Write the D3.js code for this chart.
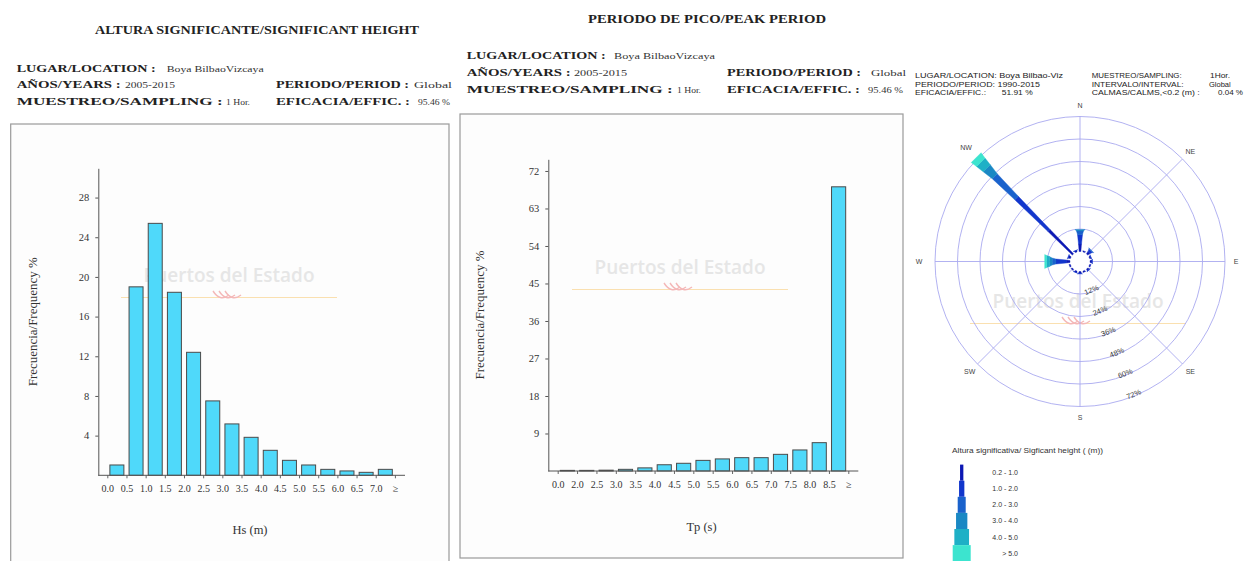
<!DOCTYPE html>
<html>
<head>
<meta charset="utf-8">
<script src="https://cdn.jsdelivr.net/npm/d3@7"></script>
<style>
  body { margin: 0; background: #ffffff; }
  svg { display: block; }
</style>
</head>
<body>
<svg id="chart" width="1245" height="561"></svg>
<script>
// ---------- Significant wave height histogram ----------
const hsLabels = ["0.0","0.5","1.0","1.5","2.0","2.5","3.0","3.5","4.0","4.5","5.0","5.5","6.0","6.5","7.0","≥"];
const hsValues = [1.04, 19.0, 25.4, 18.45, 12.4, 7.5, 5.18, 3.83, 2.52, 1.51, 1.04, 0.6, 0.44, 0.3, 0.6];
const hsTicks = [4, 8, 12, 16, 20, 24, 28];

// ---------- Peak period histogram ----------
const tpLabels = ["0.0","2.0","2.5","3.0","3.5","4.0","4.5","5.0","5.5","6.0","6.5","7.0","7.5","8.0","8.5","≥"];
const tpValues = [0.15, 0.15, 0.2, 0.4, 0.75, 1.5, 1.85, 2.55, 2.9, 3.2, 3.2, 4.0, 5.05, 6.8, 68.2];
const tpTicks = [9, 18, 27, 36, 45, 54, 63, 72];

// ---------- Directional rose (frequency % per direction, one array per Hs class) ----------
const directions = ["N","NNE","NE","ENE","E","ESE","SE","SSE","S","SSW","SW","WSW","W","WNW","NW","NNW"];
const heightClasses = ["0.2 -  1.0","1.0 -  2.0","2.0 -  3.0","3.0 -  4.0","4.0 -  5.0",">  5.0"];
const roseClass1 = [4.0, 0.6, 1.5, 0.8, 1.0, 0.7, 1.0, 0.7, 1.0, 0.8, 0.7, 0.7, 2.0, 1.2, 18.0, 0.8];
const roseClass2 = [5.0, 0.0, 1.2, 0.2, 0.3, 0.0, 0.3, 0.0, 0.3, 0.2, 0.0, 0.0, 5.5, 0.3, 24.5, 0.2];
const roseClass3 = [2.0, 0.0, 0.5, 0.0, 0.0, 0.0, 0.0, 0.0, 0.0, 0.0, 0.0, 0.0, 2.0, 0.0, 16.5, 0.0];
const roseClass4 = [0.7, 0.0, 0.0, 0.0, 0.0, 0.0, 0.0, 0.0, 0.0, 0.0, 0.0, 0.0, 1.5, 0.0, 6.0, 0.0];
const roseClass5 = [0.0, 0.0, 0.0, 0.0, 0.0, 0.0, 0.0, 0.0, 0.0, 0.0, 0.0, 0.0, 1.5, 0.0, 4.5, 0.0];
const roseClass6 = [0.0, 0.0, 0.0, 0.0, 0.0, 0.0, 0.0, 0.0, 0.0, 0.0, 0.0, 0.0, 1.0, 0.0, 3.5, 0.0];
const roseRings = [12, 24, 36, 48, 60, 72];
const compassLabels = ["N","NE","E","SE","S","SW","W","NW"];

const classColors = ["#0c18b4", "#1236cc", "#1a62cc", "#1a88c4", "#1eb0c6", "#3ce4cf"];
const petalWidths = [3, 5, 7, 10, 12, 14];
const legendWidths = [3.3, 5.3, 8, 11.3, 14.7, 18];

const svg = d3.select("#chart");
const SERIF = "'Liberation Serif', 'Times New Roman', serif";
const SANS = "'Liberation Sans', Arial, sans-serif";

function label(g, x, y, s, opts) {
  const t = g.append("text").attr("x", x).attr("y", y).text(s);
  Object.entries(opts || {}).forEach(([k, v]) => t.attr(k, v));
  return t;
}

// faint agency watermark: name, underline and wave logo
function watermark(g, cx, cy) {
  label(g, cx, cy + 6, "Puertos del Estado", {
    "text-anchor": "middle", "font-family": "'Open Sans', sans-serif",
    "font-weight": 600, "font-size": 19, fill: "#e6e6e6"
  });
  g.append("line").attr("x1", cx - 108).attr("x2", cx + 108)
    .attr("y1", cy + 21.5).attr("y2", cy + 21.5)
    .attr("stroke", "#fae0b0").attr("stroke-width", 1);
  [0, 6, 12].forEach(dx => {
    g.append("path")
      .attr("d", `M${cx - 16 + dx},${cy + 15} q7,11 16,4`)
      .attr("fill", "none").attr("stroke", "#f4b8b8").attr("stroke-width", 1.4);
  });
}

// ---------- headers of the two histogram panels ----------
function header(g, ox, title, titleX, titleY, titleW, rows) {
  label(g, titleX, titleY, title, {
    "font-family": SERIF, "font-weight": "bold", "font-size": 11.5, fill: "#222",
    textLength: titleW, lengthAdjust: "spacingAndGlyphs"
  });
  rows.forEach(r => {
    label(g, ox + r.x, r.y, r.key, {
      "font-family": SERIF, "font-weight": "bold", "font-size": 11.3, fill: "#222",
      textLength: r.w, lengthAdjust: "spacingAndGlyphs"
    });
    label(g, ox + r.vx, r.y, r.val, {
      "font-family": SERIF, "font-size": 9, fill: "#333",
      textLength: r.vw, lengthAdjust: "spacingAndGlyphs"
    });
  });
}

const hdr = svg.append("g");
header(hdr, 0, "ALTURA SIGNIFICANTE/SIGNIFICANT HEIGHT", 95, 34, 324, [
  { key: "LUGAR/LOCATION :", x: 16.7, y: 71.5, w: 139, val: "Boya BilbaoVizcaya", vx: 166.7, vw: 97 },
  { key: "AÑOS/YEARS :", x: 16.7, y: 88, w: 104, val: "2005-2015", vx: 125, vw: 50 },
  { key: "MUESTREO/SAMPLING :", x: 16.7, y: 104.5, w: 206, val: "1 Hor.", vx: 226, vw: 24 },
  { key: "PERIODO/PERIOD :", x: 276, y: 88, w: 133, val: "Global", vx: 414, vw: 38 },
  { key: "EFICACIA/EFFIC. :", x: 276, y: 104.5, w: 134, val: "95.46 %", vx: 418, vw: 32 }
]);
header(hdr, 450, "PERIODO DE PICO/PEAK PERIOD", 588, 22.7, 238, [
  { key: "LUGAR/LOCATION :", x: 16.7, y: 58.5, w: 139, val: "Boya BilbaoVizcaya", vx: 164, vw: 101 },
  { key: "AÑOS/YEARS :", x: 16.7, y: 75.5, w: 104, val: "2005-2015", vx: 124, vw: 53 },
  { key: "MUESTREO/SAMPLING :", x: 16.7, y: 92.5, w: 206, val: "1 Hor.", vx: 227, vw: 24 },
  { key: "PERIODO/PERIOD :", x: 277, y: 75.5, w: 134, val: "Global", vx: 421, vw: 35 },
  { key: "EFICACIA/EFFIC. :", x: 277, y: 92.5, w: 133, val: "95.46 %", vx: 418, vw: 35 }
]);

// ---------- histogram panel ----------
function histogram(cfg) {
  const g = svg.append("g");
  g.append("rect").attr("x", cfg.box[0]).attr("y", cfg.box[1])
    .attr("width", cfg.box[2] - cfg.box[0]).attr("height", cfg.box[3] - cfg.box[1])
    .attr("fill", "#fdfdfd").attr("stroke", "#9a9a9a").attr("stroke-width", 1.2);

  watermark(g, cfg.wm[0], cfg.wm[1]);

  const x = d3.scaleBand()
    .domain(d3.range(cfg.values.length))
    .range([cfg.b0, cfg.b1])
    .paddingInner(0.27).paddingOuter(0.135);
  const xb = d3.scalePoint().domain(cfg.labels).range([cfg.b0, cfg.b1]);
  const y = d3.scaleLinear().domain([0, cfg.yMax]).range([cfg.base, cfg.top]);

  g.selectAll("rect.bar").data(cfg.values).join("rect")
    .attr("class", "bar")
    .attr("x", (d, i) => x(i)).attr("width", x.bandwidth())
    .attr("y", d => y(d)).attr("height", d => y(0) - y(d))
    .attr("fill", "#4fd9fa").attr("stroke", "#4a4a4a").attr("stroke-width", 1);

  const ya = g.append("g").attr("transform", `translate(${cfg.axisL},0)`)
    .call(d3.axisLeft(y).tickValues(cfg.ticks).tickSize(3).tickSizeOuter(0).tickPadding(6));
  ya.select(".domain").attr("stroke", "#555");
  ya.selectAll(".tick line").attr("stroke", "#555");
  ya.selectAll("text").attr("font-family", SERIF).attr("font-size", 10.5).attr("fill", "#333");

  const xa = g.append("g").attr("transform", `translate(0,${cfg.base})`)
    .call(d3.axisBottom(xb).tickSize(3).tickPadding(7));
  xa.select(".domain").remove();
  xa.selectAll(".tick line").attr("stroke", "#666");
  xa.selectAll("text").attr("font-family", SERIF).attr("font-size", 10).attr("fill", "#333");
  g.append("line").attr("x1", cfg.axisL).attr("x2", cfg.axisR)
    .attr("y1", cfg.base).attr("y2", cfg.base).attr("stroke", "#555");

  label(g, cfg.xt[0], cfg.xt[1], cfg.xTitle, {
    "text-anchor": "middle", "font-family": SERIF, "font-size": 12.5, fill: "#333"
  });
  label(g, 0, 0, "Frecuencia/Frequency %", {
    "text-anchor": "middle", "font-family": SERIF, "font-size": 12, fill: "#333",
    transform: `translate(${cfg.yt[0]},${cfg.yt[1]}) rotate(-90)`,
    textLength: 129, lengthAdjust: "spacingAndGlyphs"
  });
}

histogram({
  box: [10.7, 124, 449, 600], wm: [229, 276],
  labels: hsLabels, values: hsValues, ticks: hsTicks, yMax: 30.95,
  b0: 107.3, b1: 394.9, axisL: 98.3, axisR: 405, base: 475.3, top: 168.3,
  xTitle: "Hs (m)", xt: [250, 534], yt: [36.5, 321.7]
});
histogram({
  box: [460, 114, 903, 558], wm: [680, 268],
  labels: tpLabels, values: tpValues, ticks: tpTicks, yMax: 74.8,
  b0: 557.7, b1: 848.3, axisL: 548.3, axisR: 858.3, base: 471, top: 159.3,
  xTitle: "Tp (s)", xt: [701.5, 531], yt: [484, 315]
});

// ---------- directional rose ----------
const rose = svg.append("g");
const cx = 1080, cy = 261.5;
const r = d3.scaleLinear().domain([0, 72]).range([10, 145]);
const R = r(72);
const rad = deg => deg * Math.PI / 180;

// header text
[
  ["LUGAR/LOCATION: Boya Bilbao-Viz", 915, 77.7, 148],
  ["PERIODO/PERIOD: 1990-2015", 915, 86.7, 125],
  ["EFICACIA/EFFIC.:", 915, 95.4, 71],
  ["51.91 %", 1001.7, 95.4, 31],
  ["MUESTREO/SAMPLING:", 1091.7, 77.7, 90],
  ["1Hor.", 1210, 77.7, 20],
  ["INTERVALO/INTERVAL:", 1091.7, 86.7, 92],
  ["Global", 1209, 86.7, 21.7],
  ["CALMAS/CALMS,<0.2 (m)  :", 1091.7, 95.4, 108],
  ["0.04 %", 1218, 95.4, 25]
].forEach(([s, x, y, w]) => label(rose, x, y, s, {
  "font-family": SANS, "font-size": 7.8, fill: "#222",
  textLength: w, lengthAdjust: "spacingAndGlyphs"
}));

watermark(rose, 1078, 302);

// grid rings and spokes
rose.selectAll("circle.ring").data(roseRings).join("circle")
  .attr("class", "ring").attr("cx", cx).attr("cy", cy).attr("r", d => r(d))
  .attr("fill", "none").attr("stroke", "#a9a9ef").attr("stroke-width", 0.9);
[0, 45, 90, 135].forEach(b => {
  const dx = Math.sin(rad(b)) * R, dy = -Math.cos(rad(b)) * R;
  rose.append("line").attr("x1", cx - dx).attr("y1", cy - dy).attr("x2", cx + dx).attr("y2", cy + dy)
    .attr("stroke", "#a9a9ef").attr("stroke-width", 0.9);
});
rose.append("circle").attr("cx", cx).attr("cy", cy).attr("r", r(0)).attr("fill", "#fff");

// compass labels
compassLabels.forEach((s, i) => {
  const b = i * 45, rr = (s === "W" || s === "NW") ? 161 : 156;
  label(rose, cx + Math.sin(rad(b)) * rr, cy - Math.cos(rad(b)) * rr + 2.5, s, {
    "text-anchor": "middle", "font-family": SANS, "font-size": 7, fill: "#444"
  });
});

// ring value labels along the SSE bearing
roseRings.forEach(v => {
  const b = 158, rr = r(v);
  const px = cx + Math.sin(rad(b)) * rr, py = cy - Math.cos(rad(b)) * rr;
  label(rose, 0, 0, v + "%", {
    "text-anchor": "middle", "font-family": SANS, "font-size": 7.5, fill: "#333",
    dy: "0.1em", transform: `translate(${px},${py}) rotate(-22)`
  });
});

// petals: one stacked segment per Hs class, widening outwards
const roseClasses = [roseClass1, roseClass2, roseClass3, roseClass4, roseClass5, roseClass6];
directions.forEach((dir, i) => {
  const b = rad(i * 22.5);
  const ux = Math.sin(b), uy = -Math.cos(b), nx = Math.cos(b), ny = Math.sin(b);
  let cum = 0, prevHalf = null;
  roseClasses.forEach((cls, k) => {
    const v = cls[i];
    if (!(v > 0)) return;
    const r0 = r(cum), r1 = r(cum + v);
    const hb = petalWidths[k] / 2;
    const ha = prevHalf === null ? hb * 0.6 : prevHalf;
    const pts = [
      [cx + ux * r0 + nx * ha, cy + uy * r0 + ny * ha],
      [cx + ux * r1 + nx * hb, cy + uy * r1 + ny * hb],
      [cx + ux * r1 - nx * hb, cy + uy * r1 - ny * hb],
      [cx + ux * r0 - nx * ha, cy + uy * r0 - ny * ha]
    ];
    rose.append("polygon").attr("points", pts.map(p => p.join(",")).join(" "))
      .attr("fill", classColors[k]).attr("stroke", classColors[k]).attr("stroke-width", 0.4);
    cum += v;
    prevHalf = hb;
  });
});

// legend
const lg = svg.append("g");
label(lg, 952, 452.5, "Altura significativa/ Sigficant height   ( (m))", {
  "font-family": SANS, "font-size": 6.8, fill: "#333",
  textLength: 151, lengthAdjust: "spacingAndGlyphs"
});
heightClasses.forEach((s, k) => {
  const ly = 472.6 + k * 16.1;
  lg.append("rect").attr("x", 961.7 - legendWidths[k] / 2).attr("y", ly - 8)
    .attr("width", legendWidths[k]).attr("height", 16.1).attr("fill", classColors[k]);
  label(lg, 1018, ly + 2.5, s, {
    "text-anchor": "end", "font-family": SANS, "font-size": 7, fill: "#333"
  });
});
</script>
</body>
</html>
